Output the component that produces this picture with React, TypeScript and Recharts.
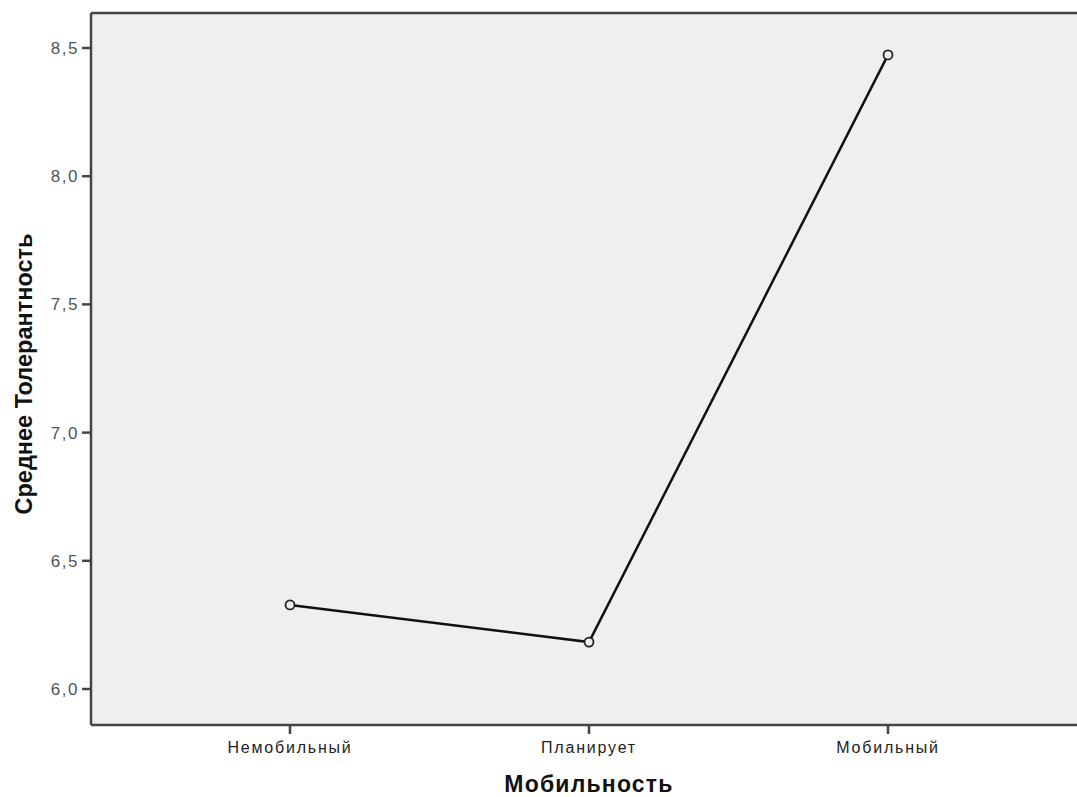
import { LineChart, Line, XAxis, YAxis, CartesianGrid, Label, ReferenceLine } from "recharts";

const categories = ["Немобильный", "Планирует", "Мобильный"];
const means = [6.328, 6.183, 8.473];
const yTicks = [6.0, 6.5, 7.0, 7.5, 8.0, 8.5];
const yDomain = [5.8596, 8.6365];

const data = categories.map((name, i) => ({ name, mean: means[i] }));

const fmt = (v: number) => v.toFixed(1).replace(".", ",");
const FONT = "Liberation Sans, Arial, sans-serif";

export default function App() {
  return (
    <div style={{ position: "absolute", left: 0, top: 0, width: 1077, height: 797, overflow: "hidden", background: "#fff" }}>
      <LineChart width={1100} height={797} data={data} margin={{ top: 13, right: 13, left: 0, bottom: 0 }}>
        <CartesianGrid fill="#efefef" horizontal={false} vertical={false} />
        <XAxis
          dataKey="name"
          padding={{ left: 199, right: 199 }}
          height={72}
          stroke="#444"
          strokeWidth={2.5}
          tickSize={9}
          tickMargin={8}
          tick={{ fontSize: 16, fill: "#222", fontFamily: FONT, letterSpacing: 1.8 }}
        >
          <Label
            content={({ viewBox }: any) => (
              <text
                x={viewBox.x + viewBox.width / 2}
                y={792}
                textAnchor="middle"
                fontSize={23}
                fontWeight="bold"
                letterSpacing={1.2}
                fontFamily={FONT}
                fill="#111"
              >
                Мобильность
              </text>
            )}
          />
        </XAxis>
        <YAxis
          width={91}
          domain={yDomain}
          ticks={yTicks}
          tickFormatter={fmt}
          stroke="#444"
          strokeWidth={2.5}
          tickSize={9}
          tickMargin={3}
          tick={{ fontSize: 17, fill: "#555", fontFamily: FONT, letterSpacing: 1.5 }}
        >
          <Label
            content={() => (
              <text
                x={24}
                y={374}
                transform="rotate(-90 24 374)"
                textAnchor="middle"
                dominantBaseline="central"
                fontSize={23.5}
                fontWeight="bold"
                fontFamily={FONT}
                fill="#111"
              >
                Среднее Толерантность
              </text>
            )}
          />
        </YAxis>
        <ReferenceLine y={yDomain[1]} stroke="#444" strokeWidth={2.5} ifOverflow="visible" />
        <Line
          type="linear"
          dataKey="mean"
          stroke="#111"
          strokeWidth={2.5}
          dot={{ r: 4.5, stroke: "#222", strokeWidth: 1.8, fill: "#eeeeee" }}
          activeDot={false}
          isAnimationActive={false}
        />
      </LineChart>
    </div>
  );
}
